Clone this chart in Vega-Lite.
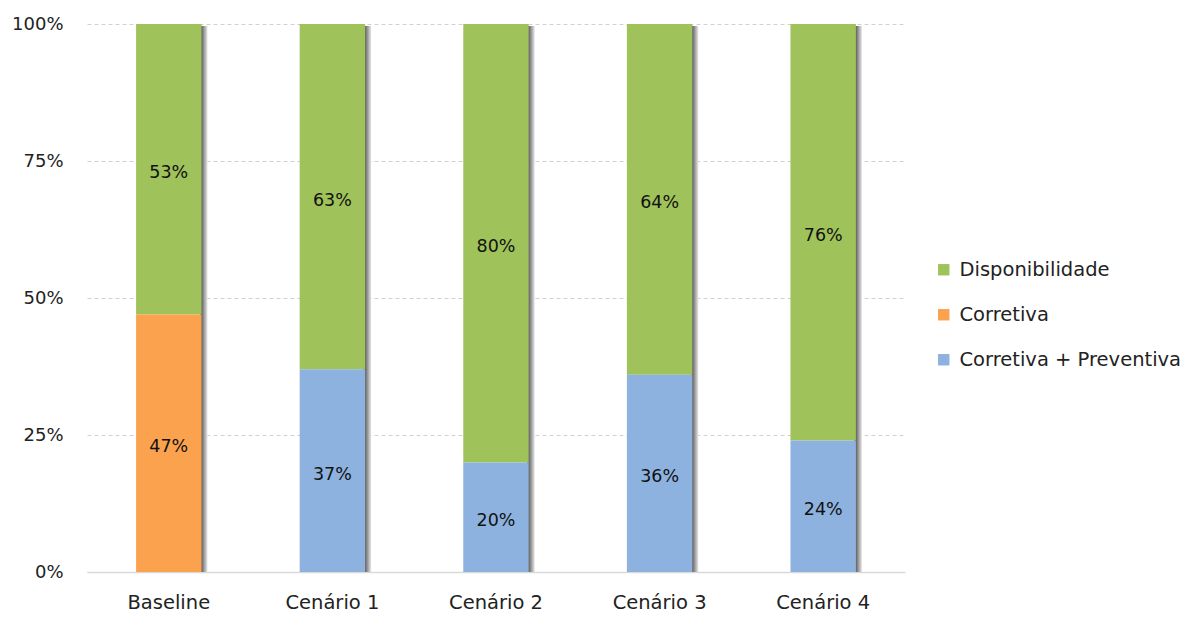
{
  "$schema": "https://vega.github.io/schema/vega-lite/v6.json",
  "width": 818,
  "height": 548,
  "autosize": {"type": "none"},
  "padding": {"left": 87, "top": 24, "right": 289, "bottom": 45},
  "background": "white",
  "config": {
    "font": "DejaVu Sans",
    "view": {"stroke": null}
  },
  "data": {
    "values": [
      {"cenario": "Baseline", "serie": "Disponibilidade", "value": 0.53, "ord": 2},
      {"cenario": "Baseline", "serie": "Corretiva", "value": 0.47, "ord": 1},
      {"cenario": "Cenário 1", "serie": "Disponibilidade", "value": 0.63, "ord": 2},
      {"cenario": "Cenário 1", "serie": "Corretiva + Preventiva", "value": 0.37, "ord": 1},
      {"cenario": "Cenário 2", "serie": "Disponibilidade", "value": 0.80, "ord": 2},
      {"cenario": "Cenário 2", "serie": "Corretiva + Preventiva", "value": 0.20, "ord": 1},
      {"cenario": "Cenário 3", "serie": "Disponibilidade", "value": 0.64, "ord": 2},
      {"cenario": "Cenário 3", "serie": "Corretiva + Preventiva", "value": 0.36, "ord": 1},
      {"cenario": "Cenário 4", "serie": "Disponibilidade", "value": 0.76, "ord": 2},
      {"cenario": "Cenário 4", "serie": "Corretiva + Preventiva", "value": 0.24, "ord": 1}
    ]
  },
  "encoding": {
    "x": {
      "field": "cenario",
      "type": "nominal",
      "sort": null,
      "scale": {"paddingInner": 0.6, "paddingOuter": 0.3},
      "axis": {
        "title": null,
        "labelAngle": 0,
        "labelFontSize": 19.5,
        "labelColor": "#222222",
        "labelPadding": 21,
        "ticks": false,
        "domainColor": "#d9d9d9",
        "domainWidth": 1.5,
        "grid": false
      }
    }
  },
  "layer": [
    {
      "mark": {
        "type": "bar",
        "xOffset": 6,
        "yOffset": 2,
        "clip": true,
        "color": {
          "gradient": "linear",
          "x1": 0, "x2": 1, "y1": 0, "y2": 0,
          "stops": [
            {"offset": 0, "color": "rgba(255,255,255,0)"},
            {"offset": 0.88, "color": "rgba(255,255,255,0)"},
            {"offset": 0.885, "color": "#505050"},
            {"offset": 0.9, "color": "#555555"},
            {"offset": 1, "color": "#e8e8e8"}
          ]
        }
      },
      "encoding": {
        "y": {"aggregate": "sum", "field": "value", "type": "quantitative", "scale": {"domain": [0, 1]}}
      }
    },
    {
      "mark": {"type": "bar", "stroke": null},
      "encoding": {
        "y": {
          "field": "value",
          "type": "quantitative",
          "stack": "zero",
          "scale": {"domain": [0, 1]},
          "axis": {
            "title": null,
            "format": ".0%",
            "values": [0, 0.25, 0.5, 0.75, 1],
            "labelFontSize": 18,
            "labelColor": "#222222",
            "labelPadding": 24,
            "ticks": false,
            "domain": false,
            "grid": true,
            "gridColor": "#d0d0d0",
            "gridDash": [4, 3],
            "gridWidth": 1
          }
        },
        "color": {
          "field": "serie",
          "type": "nominal",
          "scale": {
            "domain": ["Disponibilidade", "Corretiva", "Corretiva + Preventiva"],
            "range": ["#a0c25a", "#fba24f", "#8db2df"]
          },
          "legend": {
            "title": null,
            "orient": "none",
            "legendX": 847,
            "legendY": 236,
            "symbolType": "square",
            "symbolSize": 130,
            "symbolStrokeWidth": 0,
            "labelFontSize": 19.5,
            "labelColor": "#222222",
            "labelLimit": 400,
            "rowPadding": 24,
            "labelOffset": 6
          }
        },
        "order": {"field": "ord", "type": "quantitative"}
      }
    },
    {
      "mark": {"type": "text", "fontSize": 17.5, "color": "#111111", "baseline": "middle", "dy": 4},
      "encoding": {
        "y": {"field": "value", "type": "quantitative", "stack": "zero", "bandPosition": 0.5},
        "text": {"field": "value", "type": "quantitative", "format": ".0%"},
        "detail": {"field": "serie"},
        "order": {"field": "ord", "type": "quantitative"}
      }
    }
  ]
}
